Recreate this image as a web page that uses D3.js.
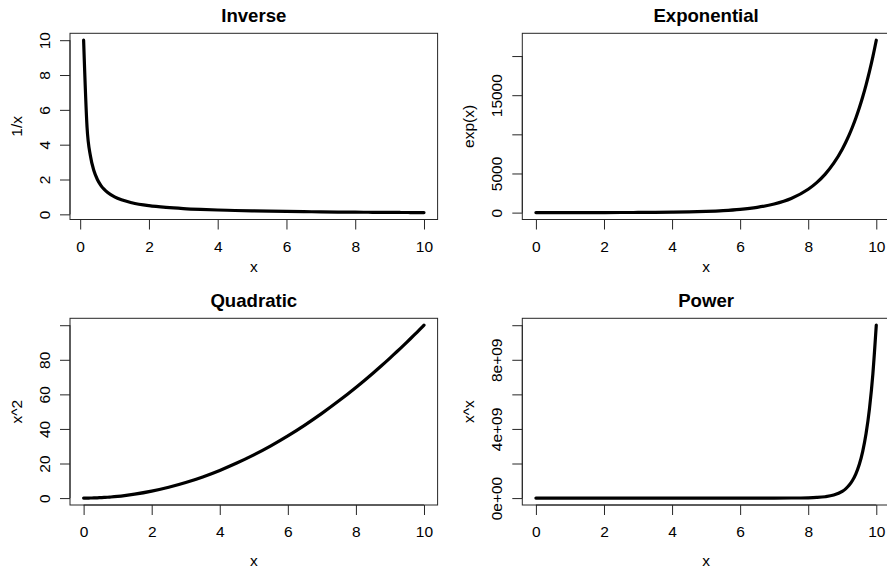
<!DOCTYPE html>
<html>
<head>
<meta charset="utf-8">
<script src="https://cdn.jsdelivr.net/npm/d3@7"></script>
<style>
  html, body { margin: 0; padding: 0; background: #fff; }
  svg { display: block; }
  text { font-family: "Liberation Sans", Arial, Helvetica, sans-serif; fill: #000; }
</style>
</head>
<body>
<svg id="chart" width="887" height="568"></svg>
<script>
// ---- data ----
const xValues = [0, 0.1, 0.2, 0.3, 0.4, 0.5, 0.6, 0.7, 0.8, 1, 1.2, 1.5, 2, 2.5, 3, 3.5, 4, 4.5, 5, 5.5, 6, 6.5, 7, 7.5, 8, 8.25, 8.5, 8.75, 9, 9.1, 9.2, 9.3, 9.4, 9.5, 9.6, 9.7, 9.8, 9.9, 10];

const inverseValues = [null, 10, 5, 3.333, 2.5, 2, 1.667, 1.429, 1.25, 1, 0.833, 0.667, 0.5, 0.4, 0.333, 0.286, 0.25, 0.222, 0.2, 0.182, 0.167, 0.154, 0.143, 0.133, 0.125, 0.121, 0.118, 0.114, 0.111, 0.1099, 0.109, 0.1075, 0.106, 0.1053, 0.104, 0.1031, 0.102, 0.101, 0.1];

const expValues = [1, 1.105, 1.221, 1.35, 1.492, 1.649, 1.822, 2.014, 2.226, 2.718, 3.32, 4.482, 7.389, 12.18, 20.09, 33.12, 54.6, 90.02, 148.4, 244.7, 403.4, 665.1, 1096.6, 1808, 2981, 3827.6, 4914.8, 6310.7, 8103.1, 8955.3, 9897.1, 10938, 12088.4, 13359.7, 14764.8, 16317.6, 18033.7, 19930.4, 22026.5];

const quadValues = [0, 0.01, 0.04, 0.09, 0.16, 0.25, 0.36, 0.49, 0.64, 1, 1.44, 2.25, 4, 6.25, 9, 12.25, 16, 20.25, 25, 30.25, 36, 42.25, 49, 56.25, 64, 68.06, 72.25, 76.56, 81, 82.81, 84.64, 86.49, 88.36, 90.25, 92.16, 94.09, 96.04, 98.01, 100];

const powerValues = [1, 0.794, 0.725, 0.697, 0.693, 0.707, 0.736, 0.779, 0.837, 1, 1.245, 1.837, 4, 9.88, 27, 80.2, 256, 869.9, 3125, 11803, 46656, 195813, 823543, 3.65e6, 1.6777e7, 3.636e7, 7.945e7, 1.748e8, 3.874e8, 5.337e8, 7.360e8, 1.016e9, 1.4041e9, 1.9426e9, 2.690e9, 3.730e9, 5.177e9, 7.190e9, 1e10];

const xTicks = [0, 2, 4, 6, 8, 10];
const xTickLabels = ["0", "2", "4", "6", "8", "10"];

const inverseTicks = [0, 2, 4, 6, 8, 10];
const inverseTickLabels = ["0", "2", "4", "6", "8", "10"];
const expTicks = [0, 5000, 10000, 15000, 20000];
const expTickLabels = ["0", "5000", "", "15000", ""];
const quadTicks = [0, 20, 40, 60, 80, 100];
const quadTickLabels = ["0", "20", "40", "60", "80", ""];
const powerTicks = [0, 2e9, 4e9, 6e9, 8e9, 1e10];
const powerTickLabels = ["0e+00", "", "4e+09", "", "8e+09", ""];

const titles = ["Inverse", "Exponential", "Quadratic", "Power"];
const yLabels = ["1/x", "exp(x)", "x^2", "x^x"];
const xLabel = "x";

// ---- layout ----
const cols = [[70, 437.6], [522.3, 889.9]];
const rows = [{top: 33.3, bottom: 219.5, xlab: 52.2}, {top: 318.3, bottom: 505, xlab: 60.7}];

const panels = [
  {col: 0, row: 0, y: inverseValues, ticks: inverseTicks, labels: inverseTickLabels},
  {col: 1, row: 0, y: expValues, ticks: expTicks, labels: expTickLabels},
  {col: 0, row: 1, y: quadValues, ticks: quadTicks, labels: quadTickLabels},
  {col: 1, row: 1, y: powerValues, ticks: powerTicks, labels: powerTickLabels}
];

const svg = d3.select("#chart");
const FS = 15.5;
const tickLen = 10;
const lineColor = "#262626";

function padded(ext) {
  const r = ext[1] - ext[0];
  return [ext[0] - 0.04 * r, ext[1] + 0.04 * r];
}

panels.forEach((p, i) => {
  const [left, right] = cols[p.col];
  const {top, bottom, xlab} = rows[p.row];
  const pts = xValues.map((x, k) => ({x, y: p.y[k]})).filter(d => d.y !== null);

  const x = d3.scaleLinear().domain(padded(d3.extent(pts, d => d.x))).range([left, right]);
  const y = d3.scaleLinear().domain(padded(d3.extent(pts, d => d.y))).range([bottom, top]);

  const g = svg.append("g");

  // box
  g.append("rect")
    .attr("x", left).attr("y", top)
    .attr("width", right - left).attr("height", bottom - top)
    .attr("fill", "none").attr("stroke", lineColor).attr("stroke-width", 1);

  // x axis
  const xAxis = d3.axisBottom(x).tickValues(xTicks).tickSize(tickLen).tickSizeOuter(0)
    .tickFormat((d, k) => xTickLabels[k]);
  const gx = g.append("g").attr("transform", `translate(0,${bottom})`).call(xAxis);
  gx.select(".domain").attr("d", `M${x(xTicks[0])},0H${x(xTicks[xTicks.length - 1])}`).attr("stroke", lineColor);
  gx.selectAll(".tick line").attr("stroke", lineColor);
  gx.selectAll(".tick text")
    .attr("y", 32).attr("dy", null)
    .attr("font-size", FS).attr("font-family", "Liberation Sans, Arial, sans-serif").attr("fill", "#000");

  // y axis
  const yAxis = d3.axisLeft(y).tickValues(p.ticks).tickSize(tickLen).tickSizeOuter(0)
    .tickFormat((d, k) => p.labels[k]);
  const gy = g.append("g").attr("transform", `translate(${left},0)`).call(yAxis);
  gy.select(".domain").attr("d", `M0,${y(p.ticks[0])}V${y(p.ticks[p.ticks.length - 1])}`).attr("stroke", lineColor);
  gy.selectAll(".tick line").attr("stroke", lineColor);
  gy.selectAll(".tick text")
    .attr("x", null).attr("dy", null)
    .attr("transform", "translate(-20,0) rotate(-90)")
    .attr("text-anchor", "middle")
    .attr("font-size", FS).attr("font-family", "Liberation Sans, Arial, sans-serif").attr("fill", "#000");

  // curve
  g.append("path")
    .datum(pts)
    .attr("fill", "none")
    .attr("stroke", "#000")
    .attr("stroke-width", 3.2)
    .attr("stroke-linejoin", "round")
    .attr("stroke-linecap", "round")
    .attr("d", d3.line().x(d => x(d.x)).y(d => y(d.y)).curve(d3.curveMonotoneX));

  // title
  g.append("text")
    .attr("x", (left + right) / 2).attr("y", top - 11.6)
    .attr("text-anchor", "middle")
    .attr("font-size", 18.6).attr("font-weight", "bold")
    .text(titles[i]);

  // x label
  g.append("text")
    .attr("x", (left + right) / 2).attr("y", bottom + xlab)
    .attr("text-anchor", "middle")
    .attr("font-size", FS)
    .text(xLabel);

  // y label
  g.append("text")
    .attr("transform", `translate(${left - 48.5},${(top + bottom) / 2}) rotate(-90)`)
    .attr("text-anchor", "middle")
    .attr("font-size", FS)
    .text(yLabels[i]);
});
</script>
</body>
</html>
